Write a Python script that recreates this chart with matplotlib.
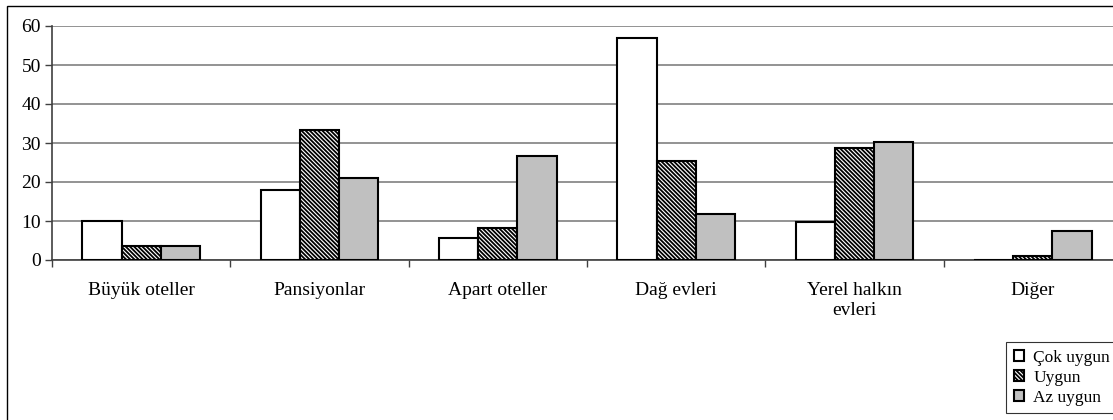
import numpy as np
import matplotlib
matplotlib.use("Agg")
import matplotlib.pyplot as plt
from matplotlib.patches import Rectangle

plt.rcParams['font.family'] = ['Liberation Serif', 'DejaVu Serif']
plt.rcParams['hatch.linewidth'] = 1.3

kategoriler = ["Büyük oteller", "Pansiyonlar", "Apart oteller", "Dağ evleri",
               "Yerel halkın\nevleri", "Diğer"]
seriler = ["Çok uygun", "Uygun", "Az uygun"]
cok_uygun = [10, 18, 5.7, 57, 9.8, 0]
uygun = [3.6, 33.3, 8.3, 25.4, 28.8, 1.1]
az_uygun = [3.6, 21, 26.7, 11.9, 30.3, 7.4]

fig = plt.figure(figsize=(11.13, 4.2), dpi=100)
ax = fig.add_axes([52/1113, 160/420, 1070/1113, 234/420])

x = np.arange(len(kategoriler))
w = 0.22
stil = [dict(color="white", hatch=None), dict(color="white", hatch="\\" * 8),
        dict(color="#c0c0c0", hatch=None)]
for i, (ad, vals) in enumerate(zip(seriler, [cok_uygun, uygun, az_uygun])):
    ax.bar(x + (i - 1) * w, vals, w, label=ad, facecolor=stil[i]["color"],
           edgecolor="black", linewidth=1.5, hatch=stil[i]["hatch"], zorder=3)

ax.set_xlim(-0.5, len(kategoriler) - 0.5)
ax.set_ylim(0, 60)
ax.set_yticks(range(0, 61, 10))
ax.yaxis.grid(True, color="#808080", linewidth=1.2, zorder=0)
ax.set_xticks(np.arange(-0.5, len(kategoriler), 1.0), minor=False)
ax.set_xticklabels([])
ax.set_xticks(x, minor=True)
ax.set_xticklabels(kategoriler, minor=True, fontsize=14)
ax.tick_params(axis="x", which="minor", length=0, pad=16)
ax.tick_params(axis="x", which="major", length=5, width=1, color="#404040")
ax.tick_params(axis="y", length=5, width=1, labelsize=14, pad=3, color="#404040")
for s in ["top", "right"]:
    ax.spines[s].set_visible(False)
ax.spines["left"].set_linewidth(1.2)
ax.spines["left"].set_color("#404040")
ax.spines["bottom"].set_linewidth(1.2)
ax.spines["bottom"].set_color("#404040")

leg = fig.legend(loc="lower right", bbox_to_anchor=(1.012, -0.005),
                 fontsize=12.5, frameon=True, fancybox=False, handlelength=0.6,
                 handleheight=0.6, handletextpad=0.5, labelspacing=0.22,
                 borderpad=0.45, borderaxespad=0.5)
leg.get_frame().set_edgecolor("black")
leg.get_frame().set_linewidth(0.8)

fig.patches.append(Rectangle((7/1113, -0.01), 1.0, 1 - 6/420 + 0.01,
                             transform=fig.transFigure, fill=False,
                             edgecolor="black", linewidth=1))

fig.savefig("out.png", dpi=100)
